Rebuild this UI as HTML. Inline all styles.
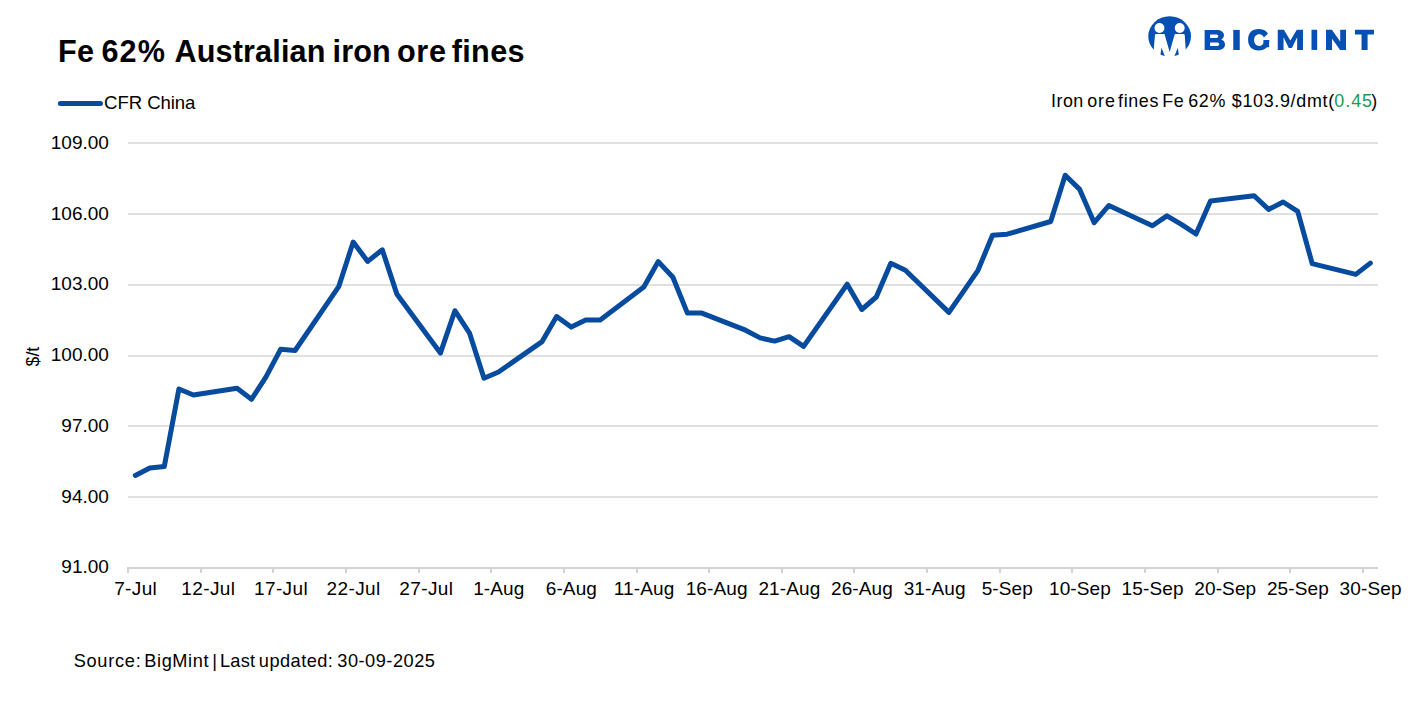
<!DOCTYPE html>
<html><head><meta charset="utf-8"><title>Fe 62% Australian iron ore fines</title>
<style>
html,body{margin:0;padding:0;background:#fff;}
body{width:1418px;height:706px;position:relative;overflow:hidden;font-family:"Liberation Sans",sans-serif;color:#000;}
svg{display:block}
text{white-space:pre}
</style></head><body>
<svg width="1418" height="706" viewBox="0 0 1418 706" style="position:absolute;left:0;top:0">
<rect x="128" y="142" width="1250" height="2" fill="#e0e0e0"/>
<rect x="128" y="213" width="1250" height="2" fill="#e0e0e0"/>
<rect x="128" y="284" width="1250" height="2" fill="#e0e0e0"/>
<rect x="128" y="355" width="1250" height="2" fill="#e0e0e0"/>
<rect x="128" y="425" width="1250" height="2" fill="#e0e0e0"/>
<rect x="128" y="496" width="1250" height="2" fill="#e0e0e0"/>
<rect x="128" y="567" width="1250" height="2" fill="#d3d3d3"/>
<rect x="127" y="567" width="2" height="6" fill="#d3d3d3"/>
<rect x="200" y="567" width="2" height="6" fill="#d3d3d3"/>
<rect x="272" y="567" width="2" height="6" fill="#d3d3d3"/>
<rect x="345" y="567" width="2" height="6" fill="#d3d3d3"/>
<rect x="418" y="567" width="2" height="6" fill="#d3d3d3"/>
<rect x="490" y="567" width="2" height="6" fill="#d3d3d3"/>
<rect x="563" y="567" width="2" height="6" fill="#d3d3d3"/>
<rect x="636" y="567" width="2" height="6" fill="#d3d3d3"/>
<rect x="708" y="567" width="2" height="6" fill="#d3d3d3"/>
<rect x="781" y="567" width="2" height="6" fill="#d3d3d3"/>
<rect x="853" y="567" width="2" height="6" fill="#d3d3d3"/>
<rect x="926" y="567" width="2" height="6" fill="#d3d3d3"/>
<rect x="999" y="567" width="2" height="6" fill="#d3d3d3"/>
<rect x="1071" y="567" width="2" height="6" fill="#d3d3d3"/>
<rect x="1144" y="567" width="2" height="6" fill="#d3d3d3"/>
<rect x="1217" y="567" width="2" height="6" fill="#d3d3d3"/>
<rect x="1289" y="567" width="2" height="6" fill="#d3d3d3"/>
<rect x="1362" y="567" width="2" height="6" fill="#d3d3d3"/>
<polyline points="135.3,475.4 149.8,468.1 164.3,466.5 178.9,389.0 193.4,395.0 237.0,388.2 251.5,399.3 266.0,376.9 280.6,349.3 295.1,350.5 338.7,286.7 353.2,242.1 367.7,261.4 382.3,249.8 396.8,293.9 440.4,353.1 454.9,310.7 469.5,333.1 484.0,378.2 498.5,372.0 542.1,341.6 556.6,316.5 571.2,327.1 585.7,320.1 600.2,320.1 643.8,287.1 658.3,261.6 672.9,277.3 687.4,313.1 701.9,313.1 745.5,330.2 760.1,337.9 774.6,341.1 789.1,336.7 803.6,346.4 847.2,284.2 861.8,309.5 876.3,297.0 890.8,263.3 905.4,270.3 948.9,312.4 963.5,291.3 978.0,270.3 992.5,235.2 1007.1,234.2 1050.7,221.5 1065.2,175.2 1079.7,189.4 1094.2,222.7 1108.8,205.5 1152.4,225.8 1166.9,215.9 1181.4,224.3 1196.0,234.0 1210.5,201.0 1254.1,195.8 1268.6,209.4 1283.1,202.0 1297.7,211.3 1312.2,263.6 1355.8,274.4 1370.3,263.1" fill="none" stroke="#074b9e" stroke-width="5" stroke-linejoin="round" stroke-linecap="round"/>
<line x1="60.4" y1="103.6" x2="100.5" y2="103.6" stroke="#074b9e" stroke-width="5" stroke-linecap="round"/>
<g id="logo">
<clipPath id="lc"><ellipse cx="1169.63" cy="36.4" rx="21.37" ry="20.15"/></clipPath>
<ellipse cx="1169.63" cy="36.4" rx="21.37" ry="20.15" fill="#0550b2"/>
<circle cx="1159.46" cy="28.05" r="4.95" fill="#fff"/>
<circle cx="1179.73" cy="28.05" r="4.95" fill="#fff"/>
<path d="M1155 35.1 Q1155.1 33.95 1156.3 33.95 L1164.5 33.95 L1169.63 52 L1174.8 33.95 L1183.4 33.95 Q1184.6 33.95 1184.7 35.1 L1186.5 60 L1152.8 60 Z" fill="#fff"/>
<g clip-path="url(#lc)" fill="#0550b2">
<path d="M1161.5 47.7 L1159.9 58 L1165.6 58 Z"/>
<path d="M1177.76 47.7 L1179.36 58 L1173.66 58 Z"/>
</g>
<g fill="#0550b2">
<path fill-rule="evenodd" d="M1204.66 29.9H1216.3C1221.2 29.9 1223.95 31.9 1223.95 35.1C1223.95 37.1 1222.9 38.7 1221.1 39.5C1223.5 40.2 1224.97 41.9 1224.97 44.4C1224.97 48 1222.1 50.04 1217 50.04H1204.66ZM1210.1 34.4V37.9H1215.7C1217.4 37.9 1218.3 37.3 1218.3 36.15C1218.3 35 1217.4 34.4 1215.7 34.4ZM1210.1 42.5V46H1216.4C1218.2 46 1219.2 45.4 1219.2 44.25C1219.2 43.1 1218.2 42.5 1216.4 42.5Z"/>
<path d="M1233.26 29.9H1239.75V50.04H1233.26Z"/>
<path fill-rule="evenodd" d="M1248.10 39.78C1248.10 33.03 1252.02 29.06 1258.70 29.06C1265.38 29.06 1269.30 33.03 1269.30 39.78C1269.30 46.53 1265.38 50.50 1258.70 50.50C1252.02 50.50 1248.10 46.53 1248.10 39.78ZM1254.10 40.05C1254.10 36.51 1256.14 34.15 1259.20 34.15C1262.26 34.15 1264.30 36.51 1264.30 40.05C1264.30 43.59 1262.26 45.95 1259.20 45.95C1256.14 45.95 1254.10 43.59 1254.10 40.05Z"/>
<path fill="#fff" d="M1261.5 40.05L1265.2 36.3L1269.2 32.6L1273 31V40.05Z"/>
<path d="M1263.4 40.05H1269.1V47.2H1263.4Z"/>
<path d="M1277.76 49.93V29.76H1283.9L1290.35 40.6L1296.8 29.76H1302.97V49.93H1297.15V37.2L1291.9 48H1288.8L1283.55 37.2V49.93Z"/>
<path d="M1311.5 29.76H1317.17V49.93H1311.5Z"/>
<path d="M1326 49.93V29.76H1331.9L1340.2 41.4V29.76H1346.02V49.93H1340.1L1332.06 38.7V49.93Z"/>
<path d="M1354.94 29.76H1373.95V34.5H1367.59V49.93H1361.54V34.5H1354.94Z"/>
</g>
</g>


<g font-family="Liberation Sans, sans-serif" fill="#000">
<text x="57.91" y="62.00" font-size="30.6" letter-spacing="0.31" font-weight="bold">Fe</text>
<text x="101.38" y="62.00" font-size="30.6" letter-spacing="1.20" font-weight="bold">62%</text>
<text x="174.38" y="62.00" font-size="30.6" letter-spacing="0.16" font-weight="bold">Australian</text>
<text x="332.46" y="62.00" font-size="30.6" letter-spacing="0.18" font-weight="bold">iron</text>
<text x="396.98" y="62.00" font-size="30.6" letter-spacing="0.71" font-weight="bold">ore</text>
<text x="451.69" y="62.00" font-size="30.6" letter-spacing="0.36" font-weight="bold">fines</text>
<text x="104.07" y="109.00" font-size="18.6" letter-spacing="-0.07">CFR China</text>
<text x="1051.09" y="106.70" font-size="17.9" letter-spacing="0.47">Iron</text>
<text x="1087.18" y="106.70" font-size="17.9" letter-spacing="0.93">ore</text>
<text x="1118.12" y="106.70" font-size="17.9" letter-spacing="0.61">fines</text>
<text x="1162.27" y="106.70" font-size="17.9" letter-spacing="0.58">Fe</text>
<text x="1188.20" y="106.70" font-size="17.9" letter-spacing="0.72">62%</text>
<text x="1231.82" y="106.70" font-size="17.9" letter-spacing="0.68">$103.9/dmt(</text>
<text x="1334.28" y="106.70" font-size="17.9" letter-spacing="0.97" fill="#1a9b50">0.45</text>
<text x="1371.32" y="106.70" font-size="17.9">)</text>
<text x="73.69" y="667.30" font-size="18.2" letter-spacing="0.72">Source:</text>
<text x="144.24" y="667.30" font-size="18.2" letter-spacing="0.61">BigMint</text>
<text x="212.16" y="667.30" font-size="18.2">|</text>
<text x="219.94" y="667.30" font-size="18.2" letter-spacing="0.28">Last</text>
<text x="258.83" y="667.30" font-size="18.2" letter-spacing="0.46">updated:</text>
<text x="337.27" y="667.30" font-size="18.2" letter-spacing="0.51">30-09-2025</text>
<text x="108.9" y="149" font-size="19" text-anchor="end">109.00</text>
<text x="108.9" y="220" font-size="19" text-anchor="end">106.00</text>
<text x="108.9" y="290" font-size="19" text-anchor="end">103.00</text>
<text x="108.9" y="361" font-size="19" text-anchor="end">100.00</text>
<text x="108.9" y="432" font-size="19" text-anchor="end">97.00</text>
<text x="108.9" y="503" font-size="19" text-anchor="end">94.00</text>
<text x="108.9" y="573" font-size="19" text-anchor="end">91.00</text>
<text x="135.7" y="595" font-size="19" letter-spacing="0.38" text-anchor="middle">7-Jul</text>
<text x="208.3" y="595" font-size="19" letter-spacing="0.38" text-anchor="middle">12-Jul</text>
<text x="281.0" y="595" font-size="19" letter-spacing="0.38" text-anchor="middle">17-Jul</text>
<text x="353.6" y="595" font-size="19" letter-spacing="0.38" text-anchor="middle">22-Jul</text>
<text x="426.3" y="595" font-size="19" letter-spacing="0.38" text-anchor="middle">27-Jul</text>
<text x="498.8" y="595" font-size="19" letter-spacing="0.12" text-anchor="middle">1-Aug</text>
<text x="571.4" y="595" font-size="19" letter-spacing="0.12" text-anchor="middle">6-Aug</text>
<text x="644.1" y="595" font-size="19" letter-spacing="0.12" text-anchor="middle">11-Aug</text>
<text x="716.7" y="595" font-size="19" letter-spacing="0.12" text-anchor="middle">16-Aug</text>
<text x="789.4" y="595" font-size="19" letter-spacing="0.12" text-anchor="middle">21-Aug</text>
<text x="862.0" y="595" font-size="19" letter-spacing="0.12" text-anchor="middle">26-Aug</text>
<text x="934.7" y="595" font-size="19" letter-spacing="0.12" text-anchor="middle">31-Aug</text>
<text x="1007.3" y="595" font-size="19" letter-spacing="0.12" text-anchor="middle">5-Sep</text>
<text x="1080.0" y="595" font-size="19" letter-spacing="0.12" text-anchor="middle">10-Sep</text>
<text x="1152.6" y="595" font-size="19" letter-spacing="0.12" text-anchor="middle">15-Sep</text>
<text x="1225.3" y="595" font-size="19" letter-spacing="0.12" text-anchor="middle">20-Sep</text>
<text x="1297.9" y="595" font-size="19" letter-spacing="0.12" text-anchor="middle">25-Sep</text>
<text x="1370.6" y="595" font-size="19" letter-spacing="0.12" text-anchor="middle">30-Sep</text>
<text x="0" y="0" font-size="17.6" text-anchor="middle" transform="translate(38.8 356.6) rotate(-90)">$/t</text>
</g>
</svg>
</body></html>
